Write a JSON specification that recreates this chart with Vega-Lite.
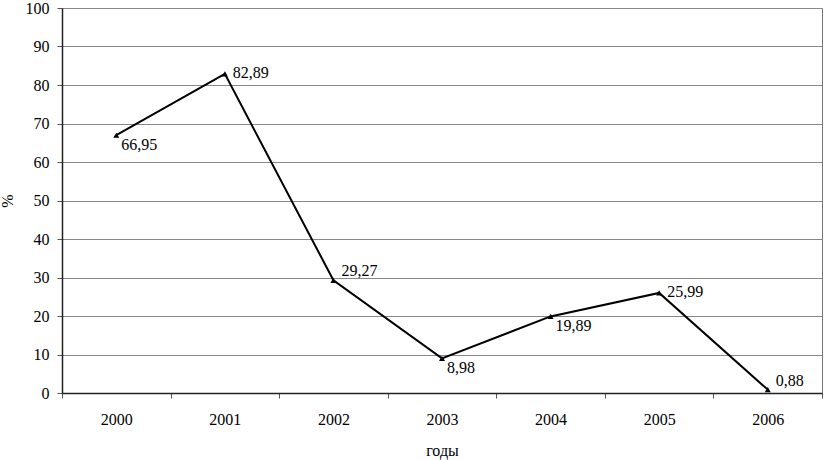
{
  "$schema": "https://vega.github.io/schema/vega-lite/v6.json",
  "width": 760,
  "height": 385,
  "autosize": {"type": "none"},
  "padding": {"left": 62, "top": 8, "right": 2, "bottom": 67},
  "background": "white",
  "config": {
    "font": "Liberation Serif",
    "axis": {"labelFont": "Liberation Serif", "titleFont": "Liberation Serif"},
    "text": {"font": "Liberation Serif"},
    "view": {"stroke": "#777", "strokeWidth": 1},
    "locale": {"number": {"decimal": ",", "thousands": " ", "grouping": [3], "currency": ["", ""]}}
  },
  "data": {
    "values": [
      {"year": "2000", "value": 66.95, "pos": "below"},
      {"year": "2001", "value": 82.89, "pos": "right"},
      {"year": "2002", "value": 29.27, "pos": "above"},
      {"year": "2003", "value": 8.98, "pos": "below"},
      {"year": "2004", "value": 19.89, "pos": "below"},
      {"year": "2005", "value": 25.99, "pos": "right"},
      {"year": "2006", "value": 0.88, "pos": "above"}
    ]
  },
  "encoding": {
    "x": {
      "field": "year", "type": "ordinal",
      "scale": {"paddingInner": 0, "paddingOuter": 0},
      "axis": {
        "title": "годы", "titleFontSize": 16, "titleFontWeight": "normal", "titleColor": "black", "titlePadding": 15,
        "labelAngle": 0, "labelFontSize": 16, "labelColor": "black", "labelPadding": 13,
        "tickBand": "extent", "tickColor": "#555", "tickSize": 5, "domainColor": "#222", "domainWidth": 1.5,
        "grid": false
      }
    },
    "y": {
      "field": "value", "type": "quantitative",
      "scale": {"domain": [0, 100], "nice": false},
      "axis": {
        "title": "%", "titleFontSize": 16, "titleFontWeight": "normal", "titleColor": "black", "titlePadding": 10,
        "values": [0, 10, 20, 30, 40, 50, 60, 70, 80, 90, 100],
        "labelFontSize": 16, "labelColor": "black", "labelPadding": 8,
        "tickColor": "#555", "tickSize": 5, "domainColor": "#222", "domainWidth": 1.5,
        "grid": true, "gridColor": "#888", "gridWidth": 1
      }
    }
  },
  "layer": [
    {"mark": {"type": "line", "color": "black", "strokeWidth": 2}},
    {"mark": {"type": "point", "shape": "triangle-up", "filled": true, "color": "black", "size": 36, "opacity": 1}},
    {
      "transform": [{"filter": "datum.pos == 'below'"}],
      "mark": {"type": "text", "align": "left", "baseline": "middle", "dx": 5, "dy": 10, "fontSize": 16, "color": "black"},
      "encoding": {"text": {"field": "value", "type": "quantitative", "format": ".2f"}}
    },
    {
      "transform": [{"filter": "datum.pos == 'right'"}],
      "mark": {"type": "text", "align": "left", "baseline": "middle", "dx": 8, "dy": -1, "fontSize": 16, "color": "black"},
      "encoding": {"text": {"field": "value", "type": "quantitative", "format": ".2f"}}
    },
    {
      "transform": [{"filter": "datum.pos == 'above'"}],
      "mark": {"type": "text", "align": "left", "baseline": "middle", "dx": 8, "dy": -9, "fontSize": 16, "color": "black"},
      "encoding": {"text": {"field": "value", "type": "quantitative", "format": ".2f"}}
    }
  ]
}
